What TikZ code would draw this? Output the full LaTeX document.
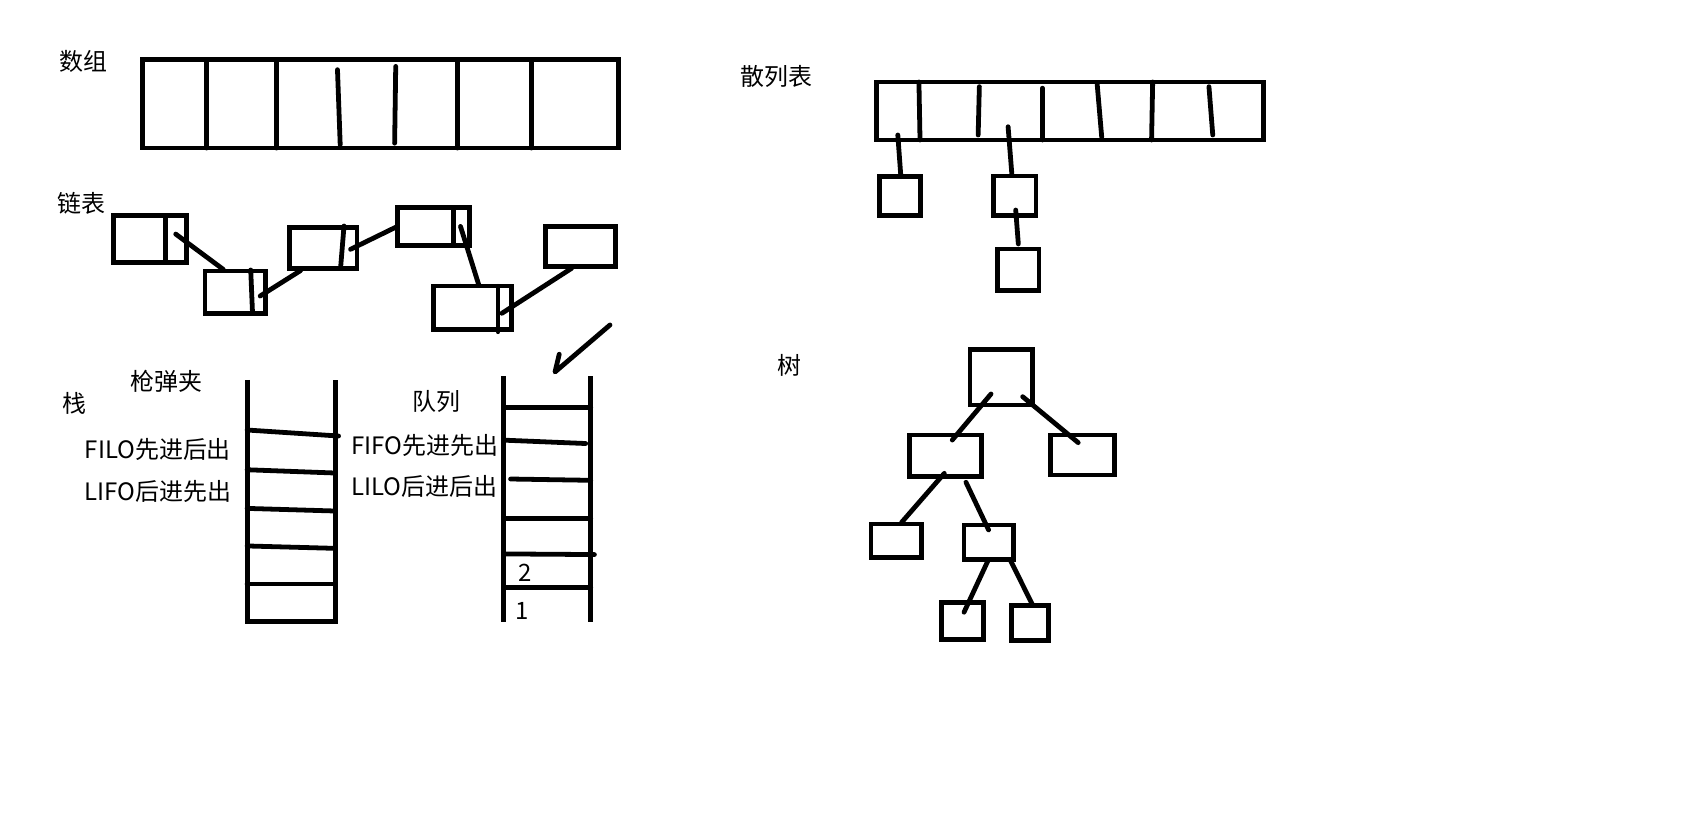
\documentclass[tikz,border=0pt]{standalone}
\usepackage{fontspec}
\setmainfont{Noto Sans CJK SC}
\usetikzlibrary{fit}
\tikzset{
  ink/.style={line width=2.2pt, line cap=round},
  box/.style={draw, line width=2.2pt, inner sep=0pt, fit={#1}},
  lbl/.style={font=\fontsize{11}{13}\selectfont, inner sep=0pt},
}
\begin{document}
\begin{tikzpicture}[x=0.5pt, y=-0.5pt]
\useasboundingbox (0,0) rectangle (1568,755);
% ---------- labels ----------
\node[lbl] (tArr) at (77,56) {数组};
\node[lbl] (tLink) at (75,187) {链表};
\node[lbl] (tMag) at (153,350) {枪弹夹};
\node[lbl] (tStack) at (68,371) {栈};
\node[lbl] (tFilo) at (145,413) {FILO先进后出};
\node[lbl] (tLifo) at (145,451) {LIFO后进先出};
\node[lbl] (tQueue) at (401,369) {队列};
\node[lbl] (tFifo) at (390,409) {FIFO先进先出};
\node[lbl] (tLilo) at (390,447) {LILO后进后出};
\node[lbl] (tTwo) at (482,526) {2};
\node[lbl] (tOne) at (480,561) {1};
\node[lbl] (tHash) at (713,70) {散列表};
\node[lbl] (tTree) at (725,336) {树};
% ---------- array ----------
\node[box={(131,55) (568,136)}] (arr) {};
\draw[ink] (190,55) -- (190,136);
\draw[ink] (254,55) -- (254,136);
\draw[ink] (310,64) -- (312.5,133);
\draw[ink] (363.5,61) -- (362.5,131.5);
\draw[ink] (420,55) -- (420,136);
\draw[ink] (488,55) -- (488,136);
% ---------- linked list ----------
\node[box={(104.4,198) (171.3,241)}] (l1) {};
\draw[ink] (151.8,198) -- (151.8,241);
\node[box={(188.4,249) (244.2,287.8)}] (l2) {};
\draw[ink] (230.3,248) -- (231.9,286.3);
\node[box={(266,209) (328,246.8)}] (l3) {};
\draw[ink] (316,207.6) -- (313,244.3);
\node[box={(365,190.8) (431.5,225.4)}] (l4) {};
\draw[ink] (416.3,190.8) -- (416.3,225.4);
\node[box={(398.4,262.7) (470,302.5)}] (l5) {};
\draw[ink] (457.4,263) -- (457.4,304.7);
\node[box={(501,208) (565.7,245)}] (l6) {};
\coordinate (p1a) at (161.4,215);  \coordinate (p1b) at (205,247.4);
\coordinate (p2a) at (239,271.9);  \coordinate (p2b) at (276,248.6);
\coordinate (p3a) at (322,229);    \coordinate (p3b) at (365,208);
\coordinate (p4a) at (423,208);    \coordinate (p4b) at (440,262.4);
\coordinate (p5a) at (461,287.8);  \coordinate (p5b) at (525,246.5);
\draw[ink] (p1a) -- (p1b);
\draw[ink] (p2a) -- (p2b);
\draw[ink] (p3a) -- (p3b);
\draw[ink] (p4a) -- (p4b);
\draw[ink] (p5a) -- (p5b);
% ---------- arrow ----------
\coordinate (arS) at (560.3,298.5);
\coordinate (arT) at (509.8,341.7);
\coordinate (arB) at (513.7,325.4);
\draw[ink, line join=round] (arS) -- (arT) -- (arB);
% ---------- stack ----------
\draw[line width=2.2pt] (227,349) -- (227,571) -- (308,571) -- (308,349);
\draw[ink] (227,395) -- (311,400.5);
\draw[ink] (227,431.5) -- (308,434.5);
\draw[ink] (227,467) -- (308,469.4);
\draw[ink] (227,501.5) -- (308,503.7);
\draw[ink] (227,536.4) -- (308,536.4);
% ---------- queue ----------
\draw[line width=2.2pt] (462.5,345.4) -- (462.5,571);
\draw[line width=2.2pt] (542.6,345.4) -- (542.6,571);
\draw[ink] (462.5,374) -- (542.6,374);
\draw[ink] (462.5,404.3) -- (538,407.4);
\draw[ink] (469,440) -- (542.6,441.2);
\draw[ink] (462.5,476) -- (542.6,476);
\draw[ink] (462.5,508.8) -- (546,509.4);
\draw[ink] (462.5,539.4) -- (542.6,539.4);
% ---------- hash table ----------
\node[box={(805.4,75.3) (1160.4,128.6)}] (hash) {};
\draw[ink] (844.1,75.3) -- (845.1,128.6);
\draw[ink] (899.6,79.6) -- (898.5,124);
\draw[ink] (957.6,81) -- (957.6,128.6);
\draw[ink] (1007.8,77) -- (1012,126);
\draw[ink] (1058.8,75.3) -- (1057.8,128.6);
\draw[ink] (1110.5,79.6) -- (1114,124);
\node[box={(808.2,162.3) (845.8,198.1)}] (hA) {};
\node[box={(912.9,161.7) (951.6,198.1)}] (hB) {};
\node[box={(916.4,228.7) (954.4,267)}] (hC) {};
\coordinate (h1a) at (824.7,124);  \coordinate (h1b) at (827.5,162.3);
\coordinate (h2a) at (926,116.4);  \coordinate (h2b) at (929.5,160.7);
\coordinate (h3a) at (933,192.9);  \coordinate (h3b) at (935.4,224.1);
\draw[ink] (h1a) -- (h1b);
\draw[ink] (h2a) -- (h2b);
\draw[ink] (h3a) -- (h3b);
% ---------- tree ----------
\node[box={(891,320.9) (948.5,372)}] (root) {};
\node[box={(835.2,399.6) (901.7,437.8)}] (nL) {};
\node[box={(965.1,399.6) (1023.5,436.3)}] (nR) {};
\node[box={(800,481.3) (846.3,512.2)}] (nLL) {};
\node[box={(885.5,482.2) (930.8,513.8)}] (nLR) {};
\node[box={(865,553.6) (903.2,587.2)}] (nLRL) {};
\node[box={(929.3,556.3) (962.9,588.5)}] (nLRR) {};
\coordinate (t1a) at (910.3,361.9); \coordinate (t1b) at (874.7,404.2);
\coordinate (t2a) at (939.4,364.4); \coordinate (t2b) at (990.4,406.6);
\coordinate (t3a) at (867.4,434.8); \coordinate (t3b) at (828.2,479.8);
\coordinate (t4a) at (887.3,443);   \coordinate (t4b) at (908.1,486.8);
\coordinate (t5a) at (907.8,514.4); \coordinate (t5b) at (885.5,562.4);
\coordinate (t6a) at (928.3,515);   \coordinate (t6b) at (948.5,555.7);
\draw[ink] (t1a) -- (t1b);
\draw[ink] (t2a) -- (t2b);
\draw[ink] (t3a) -- (t3b);
\draw[ink] (t4a) -- (t4b);
\draw[ink] (t5a) -- (t5b);
\draw[ink] (t6a) -- (t6b);
\end{tikzpicture}
\end{document}
